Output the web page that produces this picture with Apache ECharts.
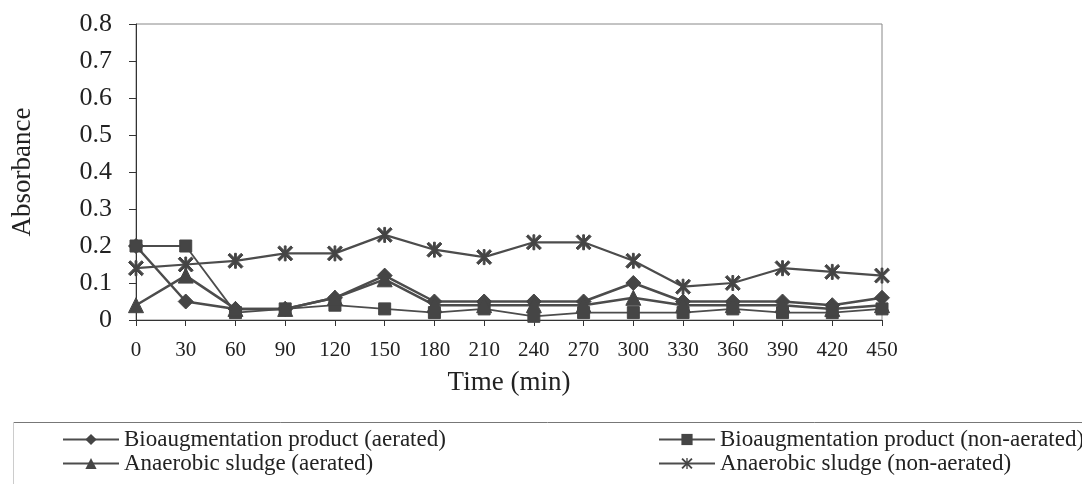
<!DOCTYPE html>
<html>
<head>
<meta charset="utf-8">
<script src="https://cdn.jsdelivr.net/npm/echarts@6/dist/echarts.min.js"></script>
<style>
html,body{margin:0;padding:0;background:#fff;}
#chart{width:1082px;height:484px;}
</style>
</head>
<body>
<div id="chart"></div>
<script>
const categories = ['0','30','60','90','120','150','180','210','240','270','300','330','360','390','420','450'];
const bioAerated    = [0.20, 0.05, 0.03, 0.03, 0.06, 0.12, 0.05, 0.05, 0.05, 0.05, 0.10, 0.05, 0.05, 0.05, 0.04, 0.06];
const bioNonAerated = [0.20, 0.20, 0.02, 0.03, 0.04, 0.03, 0.02, 0.03, 0.01, 0.02, 0.02, 0.02, 0.03, 0.02, 0.02, 0.03];
const sludgeAerated = [0.04, 0.12, 0.03, 0.03, 0.06, 0.11, 0.04, 0.04, 0.04, 0.04, 0.06, 0.04, 0.04, 0.04, 0.03, 0.04];
const sludgeNonAerated = [0.14, 0.15, 0.16, 0.18, 0.18, 0.23, 0.19, 0.17, 0.21, 0.21, 0.16, 0.09, 0.10, 0.14, 0.13, 0.12];
const seriesNames = ['Bioaugmentation product (aerated)','Bioaugmentation product (non-aerated)','Anaerobic sludge (aerated)','Anaerobic sludge (non-aerated)'];

const FONT = '"Liberation Serif", "Times New Roman", serif';
const LINE = '#4c4c4c';
const MARK = '#454545';
const starPath = 'path://M0,1.2 L1.2,0 L5,3.8 L8.8,0 L10,1.2 L6.2,5 L10,8.8 L8.8,10 L5,6.2 L1.2,10 L0,8.8 L3.8,5 Z M4.4,0 L5.6,0 L5.6,10 L4.4,10 Z';

function mk(name, data, symbol, size, lw) {
  return {
    name: name, type: 'line', data: data, symbol: symbol, symbolSize: size,
    lineStyle: {color: LINE, width: lw},
    itemStyle: {color: MARK, borderColor: MARK},
    emphasis: {disabled: true}, animation: false
  };
}

const legendText = {fontFamily: FONT, fontSize: 23, color: '#222', lineHeight: 22};
const chart = echarts.init(document.getElementById('chart'));
chart.setOption({
  backgroundColor: '#fff',
  animation: false,
  grid: {left: 136, top: 24, right: 200, bottom: 164, show: true, borderColor: '#888', borderWidth: 1},
  legend: [
    {data: [seriesNames[0], seriesNames[2]], orient: 'vertical', left: 62, top: 428, height: 60, itemWidth: 56, itemHeight: 14, itemGap: 1,
     padding: 0, textStyle: legendText, selectedMode: false},
    {data: [seriesNames[1], seriesNames[3]], orient: 'vertical', left: 658, top: 428, height: 60, itemWidth: 56, itemHeight: 14, itemGap: 1,
     padding: 0, textStyle: legendText, selectedMode: false}
  ],
  graphic: [
    {type: 'line', shape: {x1: 13, y1: 422.5, x2: 1082, y2: 422.5}, style: {stroke: '#777', lineWidth: 1}, silent: true},
    {type: 'line', shape: {x1: 13.5, y1: 422, x2: 13.5, y2: 484}, style: {stroke: '#ccc', lineWidth: 1}, silent: true}
  ],
  xAxis: {
    type: 'category', data: categories, boundaryGap: false,
    name: 'Time (min)', nameLocation: 'middle', nameGap: 49,
    nameTextStyle: {fontFamily: FONT, fontSize: 27, color: '#222'},
    axisLine: {lineStyle: {color: '#333', width: 1}},
    axisTick: {show: true, length: 6, lineStyle: {color: '#333'}},
    axisLabel: {fontFamily: FONT, fontSize: 21, color: '#222', margin: 20, interval: 0},
    splitLine: {show: false}
  },
  yAxis: {
    type: 'value', min: 0, max: 0.8, interval: 0.1,
    name: 'Absorbance', nameLocation: 'middle', nameGap: 100,
    nameTextStyle: {fontFamily: FONT, fontSize: 27, color: '#222'},
    axisLine: {show: true, lineStyle: {color: '#333', width: 1}},
    axisTick: {show: true, length: 7, lineStyle: {color: '#333'}},
    axisLabel: {fontFamily: FONT, fontSize: 26, color: '#222', margin: 24},
    splitLine: {show: false}
  },
  series: [
    mk(seriesNames[0], bioAerated, 'diamond', 15, 2.5),
    mk(seriesNames[1], bioNonAerated, 'rect', 12, 1.8),
    mk(seriesNames[2], sludgeAerated, 'triangle', 15, 2.5),
    mk(seriesNames[3], sludgeNonAerated, starPath, 15, 2.2)
  ]
});
</script>
</body>
</html>
